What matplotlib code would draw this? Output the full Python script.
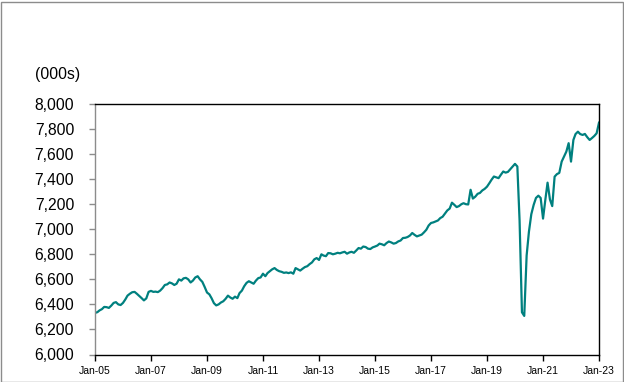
import matplotlib
matplotlib.use("Agg")
import matplotlib.pyplot as plt
import pandas as pd
from matplotlib.patches import Rectangle

plt.rcParams['font.family'] = ['Liberation Sans', 'DejaVu Sans']

# Monthly employment (000s), Jan-2005 .. Jan-2023
emp_2005 = [6332, 6338, 6352, 6362, 6380, 6378, 6372, 6390, 6412, 6418, 6400, 6395]
emp_2006 = [6412, 6440, 6470, 6485, 6497, 6500, 6485, 6468, 6450, 6432, 6448, 6500]
emp_2007 = [6508, 6500, 6502, 6498, 6510, 6530, 6555, 6560, 6575, 6568, 6555, 6565]
emp_2008 = [6600, 6590, 6608, 6612, 6600, 6575, 6590, 6615, 6625, 6600, 6580, 6540]
emp_2009 = [6495, 6480, 6450, 6410, 6392, 6400, 6415, 6425, 6445, 6470, 6455, 6445]
emp_2010 = [6462, 6450, 6490, 6510, 6545, 6572, 6585, 6575, 6565, 6590, 6610, 6615]
emp_2011 = [6645, 6625, 6650, 6665, 6680, 6690, 6675, 6665, 6660, 6652, 6655, 6650]
emp_2012 = [6656, 6645, 6690, 6680, 6670, 6685, 6698, 6705, 6722, 6735, 6760, 6770]
emp_2013 = [6755, 6800, 6790, 6785, 6810, 6808, 6800, 6805, 6812, 6808, 6815, 6820]
emp_2014 = [6805, 6815, 6820, 6812, 6830, 6850, 6845, 6862, 6858, 6845, 6842, 6855]
emp_2015 = [6862, 6870, 6885, 6880, 6872, 6890, 6902, 6895, 6885, 6890, 6903, 6910]
emp_2016 = [6930, 6932, 6938, 6950, 6970, 6955, 6943, 6950, 6957, 6975, 6996, 7030]
emp_2017 = [7050, 7055, 7062, 7070, 7089, 7100, 7125, 7150, 7165, 7212, 7195, 7177]
emp_2018 = [7185, 7200, 7208, 7200, 7198, 7315, 7245, 7260, 7283, 7290, 7310, 7322]
emp_2019 = [7340, 7368, 7395, 7421, 7415, 7408, 7435, 7461, 7452, 7458, 7480, 7500]
emp_2020 = [7522, 7501, 7070, 6337, 6308, 6790, 6980, 7120, 7195, 7250, 7268, 7250]
emp_2021 = [7085, 7240, 7372, 7238, 7185, 7420, 7440, 7450, 7540, 7580, 7620, 7687]
emp_2022 = [7540, 7713, 7760, 7779, 7760, 7753, 7761, 7735, 7713, 7728, 7745, 7766]
emp_2023 = [7851]

employment = (emp_2005 + emp_2006 + emp_2007 + emp_2008 + emp_2009 + emp_2010 +
              emp_2011 + emp_2012 + emp_2013 + emp_2014 + emp_2015 + emp_2016 +
              emp_2017 + emp_2018 + emp_2019 + emp_2020 + emp_2021 + emp_2022 + emp_2023)
dates = pd.date_range("2005-01-01", periods=len(employment), freq="MS")

tick_years = list(range(2005, 2024, 2))
tick_labels = ["Jan-%02d" % (y % 100) for y in tick_years]
y_ticks = list(range(6000, 8001, 200))

fig = plt.figure(figsize=(6.24, 3.82), dpi=100)
ax = fig.add_axes([95/624, 1-354.5/382, (599-95)/624, (354.5-104)/382])

ax.plot(dates, employment, color="#00807F", linewidth=1.6, solid_joinstyle="round")

ax.set_xlim(pd.Timestamp("2005-01-01"), pd.Timestamp("2023-01-01"))
ax.set_ylim(6000, 8000)
ax.set_yticks(y_ticks)
ax.set_yticklabels(["{:,}".format(v) for v in y_ticks], fontsize=11.3)
ax.set_xticks([pd.Timestamp("%d-01-01" % y) for y in tick_years])
ax.set_xticklabels(tick_labels, fontsize=7.5)

for s in ["top", "right", "bottom"]:
    ax.spines[s].set_color("black")
    ax.spines[s].set_linewidth(1.0)
ax.spines["left"].set_color("#8C8C8C")
ax.spines["left"].set_linewidth(1.0)

ax.tick_params(axis="y", direction="out", length=4, width=1, color="#8C8C8C", pad=11)
ax.tick_params(axis="x", direction="out", length=4.5, width=1, color="black", pad=4)

fig.text(35/624, 1-75/382, "(000s)", fontsize=11.3, ha="left", va="center")

fig.patches.append(Rectangle((0.5/624, 0.5/382), 622.5/624, 380/382, transform=fig.transFigure,
                             fill=False, edgecolor="#8C8C8C", linewidth=1.0))

fig.savefig("out.png", dpi=100)
